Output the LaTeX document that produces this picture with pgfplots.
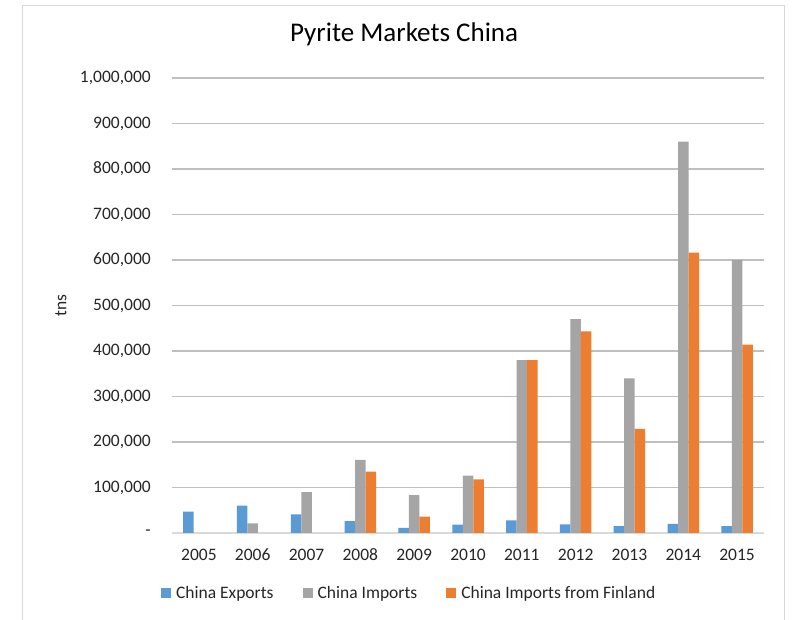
\documentclass[border=0pt]{standalone}
\usepackage{pgfplots}
\pgfplotsset{compat=1.18}
\usepackage{fontspec}
\setmainfont{Carlito}
\definecolor{cblue}{HTML}{5B9BD5}
\definecolor{cgray}{HTML}{A5A5A5}
\definecolor{corange}{HTML}{ED7D31}
\definecolor{grid}{HTML}{D9D9D9}
\definecolor{txt}{HTML}{262626}
\begin{document}
\begin{tikzpicture}
\useasboundingbox (0,0) rectangle (792bp,620bp);
\clip (0,0) rectangle (792bp,620bp);
\fill[white] (0,0) rectangle (792bp,620bp);
\draw[grid, line width=1bp] (22bp,-20bp) -- (22bp,614bp) -- (784bp,614bp) -- (784bp,-20bp);
\begin{axis}[
  at={(172bp,87bp)}, anchor=south west,
  scale only axis, width=592bp, height=455bp,
  xmin=-0.5, xmax=10.5, ymin=0, ymax=1000000,
  ybar=0pt, bar width=10.5bp,
  axis x line*=bottom, axis y line*=left,
  x axis line style={grid, line width=1.1bp, -},
  y axis line style={draw=none},
  ymajorgrids, xmajorgrids=false, grid style={grid, line width=1.1bp},
  major tick length=0pt,
  xtick={0,...,10},
  xticklabels={2005,2006,2007,2008,2009,2010,2011,2012,2013,2014,2015},
  ytick={0,100000,200000,300000,400000,500000,600000,700000,800000,900000,1000000},
  yticklabels={{-},{100,000},{200,000},{300,000},{400,000},{500,000},{600,000},{700,000},{800,000},{900,000},{1,000,000}},
  scaled y ticks=false,
  tick label style={font=\fontsize{17.5bp}{20bp}\selectfont, text=txt},
  yticklabel style={inner sep=0pt, xshift=-21bp},
  xticklabel style={inner sep=0pt, anchor=north, text height=11bp, text depth=0pt, yshift=-16bp},
  ylabel={tns},
  every axis y label/.style={at={(rel axis cs:0,0.5)}, xshift=-111bp, rotate=90, anchor=center,
    font=\fontsize{17.5bp}{20bp}\selectfont, text=txt},
  title={Pyrite Markets China},
  title style={at={(0.392,1)}, anchor=base, yshift=30.7bp, font=\fontsize{27bp}{32bp}\selectfont, text=black, inner sep=0pt},
  legend columns=3,
  legend style={at={(0.399,-0.132)}, anchor=center, draw=none, fill=none,
    font=\fontsize{17.5bp}{20bp}\selectfont, text=txt, inner sep=0pt,
    nodes={inner sep=0pt},
    /tikz/every odd column/.append style={column sep=5bp},
    /tikz/every even column/.append style={column sep=29bp}},
  legend image code/.code={\fill[#1, draw=none] (0bp,-5bp) rectangle (10bp,5bp);},
]
\addplot[fill=cblue, draw=none] coordinates {(0,47000) (1,60000) (2,41000) (3,26000) (4,11000) (5,18500) (6,28000) (7,19000) (8,15000) (9,20000) (10,15000)};
\addplot[fill=cgray, draw=none] coordinates {(1,21000) (2,90000) (3,160500) (4,83000) (5,126000) (6,380000) (7,470000) (8,340000) (9,860000) (10,600000)};
\addplot[fill=corange, draw=none] coordinates {(3,135000) (4,36000) (5,118000) (6,380000) (7,443000) (8,229000) (9,616000) (10,414000)};
\legend{China Exports, China Imports, China Imports from Finland}
\end{axis}
\end{tikzpicture}
\end{document}
